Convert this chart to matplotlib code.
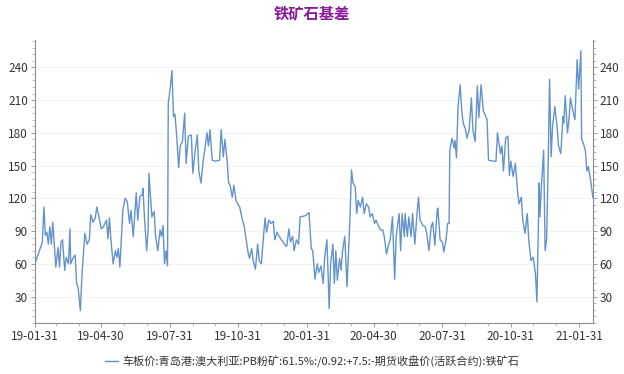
import datetime as dt
import matplotlib
matplotlib.use("Agg")
import matplotlib.pyplot as plt
import matplotlib.dates as mdates
from matplotlib.ticker import AutoMinorLocator, FixedLocator

plt.rcParams['font.family'] = ['Noto Sans CJK SC', 'DejaVu Sans']

title = "铁矿石基差"
series_name = "车板价:青岛港:澳大利亚:PB粉矿:61.5%:/0.92:+7.5:-期货收盘价(活跃合约):铁矿石"
start_date = "2019-01-31"

# day offsets from 2019-01-31 and basis values
day_offsets = [
    0, 10, 12, 14, 16, 18, 20, 22, 24, 28, 31, 33, 35, 37, 40, 42, 45, 47, 48, 51, 54, 56, 58, 61, 63, 67,
    70, 73, 75, 78, 81, 83, 86, 89, 92, 96, 98, 100, 102, 105, 108, 110, 112, 114, 118, 121, 124, 127, 129,
    132, 136, 138, 141, 144, 145, 147, 150, 152, 153, 157, 160, 162, 165, 168, 170, 172, 174, 176, 178, 179,
    182, 184, 186, 188, 190, 193, 195, 198, 201, 203, 206,
    210, 212, 215, 218, 220, 223, 226, 228, 231, 233, 235, 238, 242, 248, 250, 253, 255, 258, 260, 262, 265,
    267, 270, 273, 275, 278, 281, 284, 286, 288, 291, 293, 296, 299, 301, 304, 306, 309, 311, 314, 317, 320,
    322, 325, 328, 330, 333, 336, 338, 341, 343, 346,
    348, 351, 354, 356, 363, 368, 371, 373, 376, 379, 381, 384, 387, 389, 392, 394, 395, 397, 400, 402, 404,
    406, 409, 411, 413, 416, 419, 421, 423, 425, 427, 430, 432, 434, 437, 440, 442, 445, 448, 450, 453, 456,
    458, 461, 464, 467, 469, 472, 475, 477, 480, 483, 485,
    489, 491, 493, 496, 497, 500, 502, 505, 507, 510, 513, 515, 517, 521, 524, 526, 529, 532, 534, 537, 540,
    541, 544, 547, 549, 552, 554, 556, 557, 560, 563, 564, 566, 568, 571, 573, 575, 578, 580, 583, 586, 588,
    591, 594, 596, 599, 602, 604, 607, 609, 615, 619, 621,
    625, 627, 629, 632, 635, 637, 639, 642, 645, 646, 648, 650, 653, 655, 658, 661, 663, 666, 669, 672, 674,
    677, 678, 680, 683, 685, 687, 689, 691, 693, 695, 698, 701, 703, 706, 709, 710, 712, 715, 717, 719, 722,
    725, 726, 728, 730, 733, 734, 736, 739, 741, 743, 746, 749,
]
basis = [
    60, 80, 112, 86, 89, 78, 94, 78, 98, 57, 75, 57, 80, 82, 54, 66, 60, 92, 60, 65, 68, 42, 38, 17, 48, 88,
    78, 82, 105, 98, 102, 112, 103, 92, 94, 100, 83, 102, 82, 60, 72, 66, 74, 57, 109, 120, 117, 97, 109,
    85, 125, 100, 122, 123, 129, 103, 72, 91, 143, 103, 108, 85, 72, 91, 85, 95, 60, 72, 58, 207,
    223, 237, 195, 197, 180, 148, 168, 172, 198, 152, 177,
    178, 143, 163, 178, 145, 134, 155, 164, 180, 168, 183, 155, 154, 155, 183, 158, 174, 155, 134, 132, 121,
    132, 118, 114, 112, 102, 94, 80, 71, 65, 74, 63, 55, 78, 63, 60, 78, 102, 89, 100, 97, 99,
    82, 89, 85, 83, 80, 77, 76, 92, 80, 85,
    72, 82, 78, 103, 104, 107, 74, 72, 46, 60, 52, 58, 42, 66, 82, 42, 19, 60, 78, 42, 72,
    45, 65, 54, 72, 85, 39, 72, 103, 146, 134, 131, 106, 118, 112, 121, 106, 115, 112, 103, 106, 97,
    100, 95, 91, 91, 85, 69, 78, 82, 103, 46, 85,
    106, 72, 106, 85, 106, 85, 103, 85, 106, 78, 106, 121, 100, 95, 94, 88, 72, 94, 98, 77, 109,
    111, 82, 80, 71, 82, 97, 97, 164, 175, 166, 173, 157, 204, 224, 200, 189, 183, 175, 183, 212, 183,
    172, 223, 194, 224, 200, 197, 192, 155, 154, 154, 180,
    161, 168, 145, 175, 177, 141, 154, 140, 152, 143, 126, 115, 121, 100, 88, 106, 82, 63, 66, 51, 25,
    134, 103, 131, 164, 72, 82, 149, 229, 158, 186, 204, 186, 168, 161, 195, 189, 214, 180, 192, 212, 201,
    192, 210, 247, 220, 255, 174, 171, 164, 145, 149, 137, 121,
]

x_ticks = ["2019-01-31", "2019-04-30", "2019-07-31", "2019-10-31", "2020-01-31",
           "2020-04-30", "2020-07-31", "2020-10-31", "2021-01-31"]
y_ticks = [30, 60, 90, 120, 150, 180, 210, 240]

d0 = dt.datetime.strptime(start_date, "%Y-%m-%d")
dates = [d0 + dt.timedelta(days=int(d)) for d in day_offsets]
tick_dates = [dt.datetime.strptime(s, "%Y-%m-%d") for s in x_ticks]

fig = plt.figure(figsize=(6.24, 3.74), dpi=100)
ax = fig.add_axes([0.056, 0.137, 0.894, 0.756])

line_color = "#6393cb"
ax.plot(dates, basis, color=line_color, lw=1.0, label=series_name)

ax.set_xlim(d0, d0 + dt.timedelta(days=749))
ax.set_ylim(6, 265)

ax.xaxis.set_major_locator(FixedLocator(mdates.date2num(tick_dates)))
ax.xaxis.set_major_formatter(mdates.DateFormatter("%y-%m-%d"))
ax.xaxis.set_minor_locator(mdates.MonthLocator(bymonthday=-1))

ax.set_yticks(y_ticks)
ax.yaxis.set_minor_locator(AutoMinorLocator(5))
ax.grid(axis='y', which='major', color='#f2f2f2', lw=0.8)
ax.set_axisbelow(True)

ax.spines['top'].set_visible(False)
for s in ['left', 'right', 'bottom']:
    ax.spines[s].set_color('#8c8c8c')
    ax.spines[s].set_linewidth(0.8)

ax.tick_params(axis='both', which='major', direction='out', length=3, width=0.6,
               color='#8c8c8c', labelsize=8.5, labelcolor='#333333', pad=2)
ax.tick_params(axis='both', which='minor', direction='out', length=2, width=0.5, color='#a0a0a0')
ax.tick_params(axis='y', which='both', right=True, labelright=True)

fig.suptitle(title, x=0.5, y=0.985, color='#8b1a9b', fontsize=11, fontweight='bold')

fig.legend(loc='lower center', bbox_to_anchor=(0.5, -0.01), frameon=False,
           fontsize=8, handlelength=1.2, handletextpad=0.4, labelcolor='#333333')

fig.savefig("out.png", dpi=100)
